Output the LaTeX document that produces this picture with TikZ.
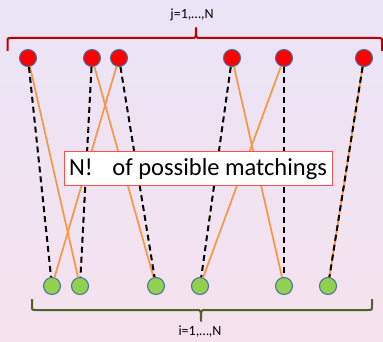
\documentclass[tikz,border=0pt]{standalone}
\usepackage{fontspec}
\setmainfont{Carlito}
\definecolor{bgtop}{HTML}{EAE4F6}
\definecolor{bgbot}{HTML}{F6E2EE}
\definecolor{jred}{HTML}{FF0000}
\definecolor{igreen}{HTML}{92D050}
\definecolor{rim}{HTML}{41719C}
\definecolor{pairorange}{HTML}{F79646}
\definecolor{bracered}{HTML}{C00000}
\definecolor{bracegreen}{HTML}{4F6228}
\definecolor{boxred}{HTML}{FF5050}

\begin{document}
\begin{tikzpicture}[x=1pt, y=-1pt,
  top/.style={circle, draw=rim, line width=1pt, fill=jred, minimum size=17pt, inner sep=0pt},
  bot/.style={circle, draw=rim, line width=1pt, fill=igreen, minimum size=17pt, inner sep=0pt},
  pairA/.style={black, line width=2pt, dash pattern=on 6pt off 4pt},
  pairB/.style={pairorange, line width=1.7pt},
  brace/.style={line width=2pt, line join=round},
  lbl/.style={font=\fontsize{14}{16}\selectfont, inner sep=1pt},
  countbox/.style={draw=boxred, fill=white, line width=1pt, minimum width=268pt, minimum height=34pt, inner sep=0pt, font=\fontsize{24.5}{28}\selectfont}]
  \shade[top color=bgtop, bottom color=bgbot] (0,0) rectangle (383,342);
  \useasboundingbox (0,0) rectangle (383,342);

  % j side
  \node[top] (j1) at (28,58) {};
  \node[top] (j2) at (92,58) {};
  \node[top] (j3) at (119,58) {};
  \node[top] (j4) at (232,58) {};
  \node[top] (j5) at (284,58) {};
  \node[top] (j6) at (364,58) {};
  % i side
  \node[bot] (i1) at (52,286) {};
  \node[bot] (i2) at (80,286) {};
  \node[bot] (i3) at (156,286) {};
  \node[bot] (i4) at (200,286) {};
  \node[bot] (i5) at (284,286) {};
  \node[bot] (i6) at (328,286) {};

  % second matching
  \draw[pairB] (j1) -- (i2);
  \draw[pairB] (j2) -- (i3);
  \draw[pairB] (j3) -- (i1);
  \draw[pairB] (j4) -- (i5);
  \draw[pairB] (j5) -- (i4);
  \draw[pairB] (j6) -- (i6);
  % first matching
  \draw[pairA] (j1) -- (i1);
  \draw[pairA] (j2) -- (i2);
  \draw[pairA] (j3) -- (i3);
  \draw[pairA] (j4) -- (i4);
  \draw[pairA] (j5) -- (i5);
  \draw[pairA] (j6) -- (i6);

  % braces
  \draw[brace, bracered] (7.5,51) -- (7.5,42) .. controls (7.5,38) .. (11.5,38) -- (192,38)
    .. controls (196,38) .. (196,28) .. controls (196,38) .. (200,38) -- (378,38)
    .. controls (382,38) .. (382,42) -- (382,51);
  \draw[brace, bracegreen] (32,299) -- (32,306) .. controls (32,310) .. (36,310) -- (197,310)
    .. controls (201,310) .. (201,321) .. controls (201,310) .. (205,310) -- (368,310)
    .. controls (372,310) .. (372,306) -- (372,299);
  \node[lbl] (jlab) at (192,15) {j=1,…,N};
  \node[lbl] (ilab) at (200,332) {i=1,…,N};

  \node[countbox] (count) at (198,169) {N!\hspace{0.8em}of possible matchings};
\end{tikzpicture}
\end{document}
